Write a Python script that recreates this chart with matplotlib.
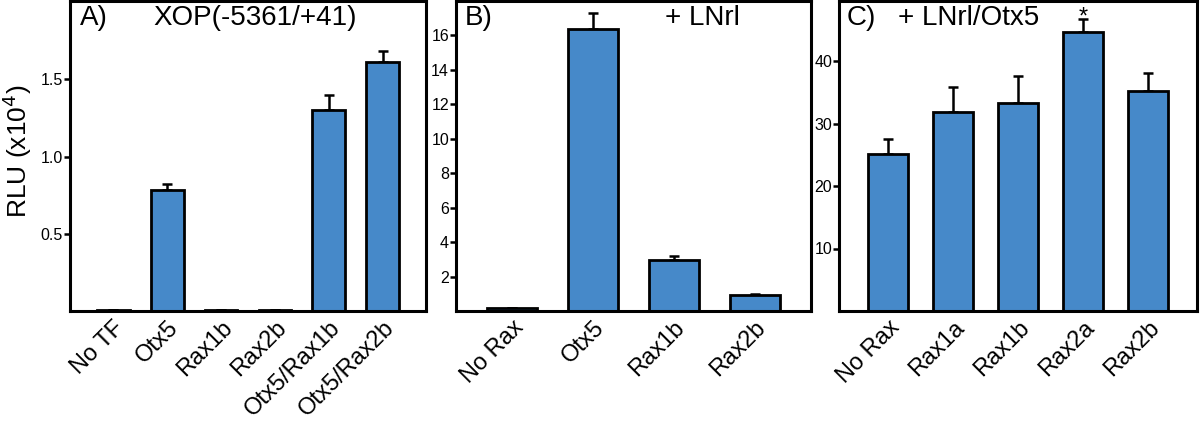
import matplotlib
matplotlib.use("Agg")
import matplotlib.pyplot as plt
import numpy as np

plt.rcParams['font.family'] = ['Liberation Sans', 'DejaVu Sans']

# Panel A
a_labels = ["No TF", "Otx5", "Rax1b", "Rax2b", "Otx5/Rax1b", "Otx5/Rax2b"]
a_values = [0.004, 0.783, 0.004, 0.004, 1.305, 1.614]
a_errors = [0.0, 0.039, 0.0, 0.0, 0.091, 0.072]
a_yticks = [0.5, 1.0, 1.5]
a_yticklabels = ["0.5", "1.0", "1.5"]

# Panel B
b_labels = ["No Rax", "Otx5", "Rax1b", "Rax2b"]
b_values = [0.15, 16.37, 2.95, 0.95]
b_errors = [0.0, 0.93, 0.25, 0.04]
b_yticks = [2, 4, 6, 8, 10, 12, 14, 16]

# Panel C
c_labels = ["No Rax", "Rax1a", "Rax1b", "Rax2a", "Rax2b"]
c_values = [25.1, 31.9, 33.2, 44.6, 35.2]
c_errors = [2.4, 3.9, 4.4, 2.1, 2.9]
c_yticks = [10, 20, 30, 40]

bar_color = "#4689c9"
fig = plt.figure(figsize=(12, 4.21), dpi=100)

W, H = 1200, 421
def add_ax(left, right, top, bottom):
    return fig.add_axes([left / W, 1 - bottom / H, (right - left) / W, (bottom - top) / H])

axA = add_ax(70, 426, 1, 311)
axB = add_ax(456, 811, 1, 311)
axC = add_ax(839, 1197, 1, 311)

def draw(ax, labels, values, errors, xlim, ylim, width):
    x = np.arange(len(labels))
    ax.bar(x, values, width=width, color=bar_color, edgecolor="black", linewidth=2.0, zorder=2)
    ax.errorbar(x, values, yerr=[np.zeros(len(values)), errors], fmt="none",
                ecolor="black", elinewidth=1.8, capsize=3.3, capthick=1.8, zorder=1)
    ax.set_xlim(*xlim)
    ax.set_ylim(*ylim)
    ax.set_xticks(x)
    ax.set_xticklabels(labels, rotation=45, ha="right", rotation_mode="anchor", fontsize=17)
    ax.tick_params(axis="x", length=0, pad=4)
    ax.tick_params(axis="y", direction="out", length=4, width=1.8, labelsize=11.5, pad=1)
    for s in ax.spines.values():
        s.set_linewidth(2.2)

draw(axA, a_labels, a_values, a_errors, (-0.8, 5.8), (0, 2.008), 0.61)
axA.set_yticks(a_yticks)
axA.set_yticklabels(a_yticklabels)
axA.set_ylabel("RLU (x10$^4$)", fontsize=19)
axA.yaxis.set_label_coords(-0.102, 0.515)
axA.text(0.028, 0.945, "A)", transform=axA.transAxes, fontsize=20, va="center", ha="left")
axA.text(0.233, 0.945, "XOP(-5361/+41)", transform=axA.transAxes, fontsize=20, va="center", ha="left")

draw(axB, b_labels, b_values, b_errors, (-0.7, 3.7), (0, 18.0), 0.62)
axB.set_yticks(b_yticks)
axB.text(0.025, 0.945, "B)", transform=axB.transAxes, fontsize=20, va="center", ha="left")
axB.text(0.589, 0.945, "+ LNrl", transform=axB.transAxes, fontsize=20, va="center", ha="left")

draw(axC, c_labels, c_values, c_errors, (-0.76, 4.75), (0, 49.6), 0.615)
axC.set_yticks(c_yticks)
axC.text(0.02, 0.945, "C)", transform=axC.transAxes, fontsize=20, va="center", ha="left")
axC.text(0.165, 0.945, "+ LNrl/Otx5", transform=axC.transAxes, fontsize=20, va="center", ha="left")
axC.text(3, 47.0, "*", ha="center", va="center", fontsize=17)

fig.savefig("out.png", dpi=100)
